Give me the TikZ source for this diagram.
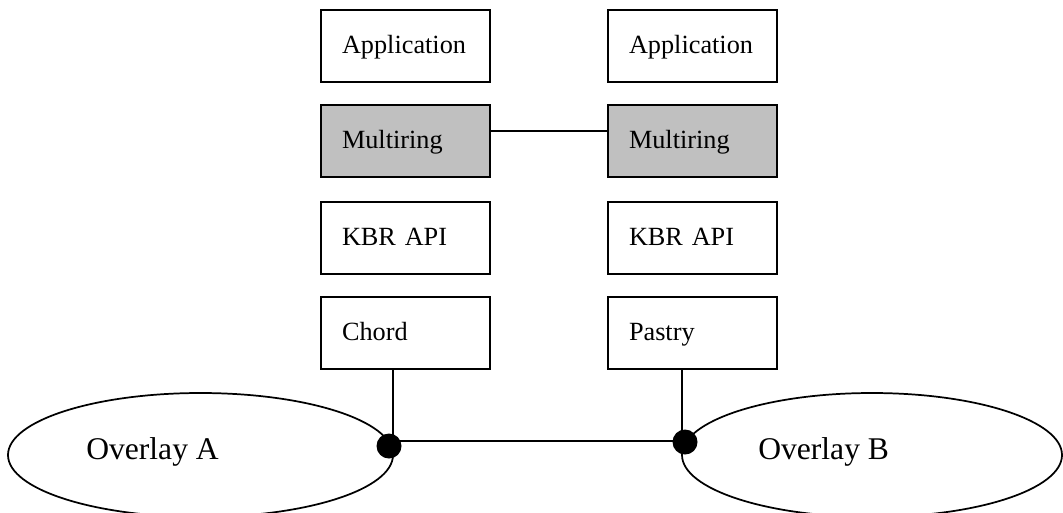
\documentclass[tikz,border=0pt]{standalone}
\usepackage{fontspec}
\setmainfont{Liberation Serif}
\usetikzlibrary{shapes.geometric}
\begin{document}
\begin{tikzpicture}[x=0.75pt,y=-0.75pt,
  layer/.style={draw=black, line width=1.3pt, rectangle,
    minimum width=126.75pt, minimum height=54pt,
    inner xsep=15.75pt, inner ysep=0pt,
    text width=95.25pt, align=left,
    text height=10.5pt, text depth=0pt,
    font=\fontsize{19.7pt}{22pt}\selectfont},
  shaded/.style={layer, fill={rgb,255:red,192;green,192;blue,192}},
  overlay/.style={draw=black, line width=1.3pt, ellipse, inner sep=0pt},
  overlaytext/.style={anchor=base west, inner sep=0pt,
    font=\fontsize{23.7pt}{26pt}\selectfont},
  wire/.style={draw=black, line width=1.1pt},
  joint/.style={circle, fill=black, inner sep=0pt, minimum size=18.75pt}]
\useasboundingbox (0,0) rectangle (1063,512);
\clip (0,0) rectangle (1063,512);

% overlay networks
\node[overlay, minimum width=288.75pt, minimum height=93pt] (ovA) at (200.5,455) {};
\node[overlay, minimum width=285pt, minimum height=93pt] (ovB) at (872,455) {};
\node[overlaytext] (ovAtext) at (86,459) {Overlay A};
\node[overlaytext] (ovBtext) at (758,459) {Overlay B};

% left protocol stack
\node[layer]  (appA)   at (405.5,46)  {Application};
\node[shaded] (mringA) at (405.5,141) {Multiring};
\node[layer]  (kbrA)   at (405.5,238) {KBR API};
\node[layer]  (chord)  at (405.5,333) {Chord};

% right protocol stack
\node[layer]  (appB)   at (692.5,46)  {Application};
\node[shaded] (mringB) at (692.5,141) {Multiring};
\node[layer]  (kbrB)   at (692.5,238) {KBR API};
\node[layer]  (pastry) at (692.5,333) {Pastry};

% connections
\coordinate (mlevel) at (0,131);
\coordinate (jA) at (393,441);
\coordinate (jB) at (682,441);
\draw[wire] (mringA.east |- mlevel) -- (mringB.west |- mlevel);
\draw[wire] (chord.south -| jA) -- (jA) -- (jB) -- (pastry.south -| jB);

% attachment points on the overlays
\node[joint] (dotA) at (389,446) {};
\node[joint] (dotB) at (685,442) {};
\end{tikzpicture}
\end{document}
